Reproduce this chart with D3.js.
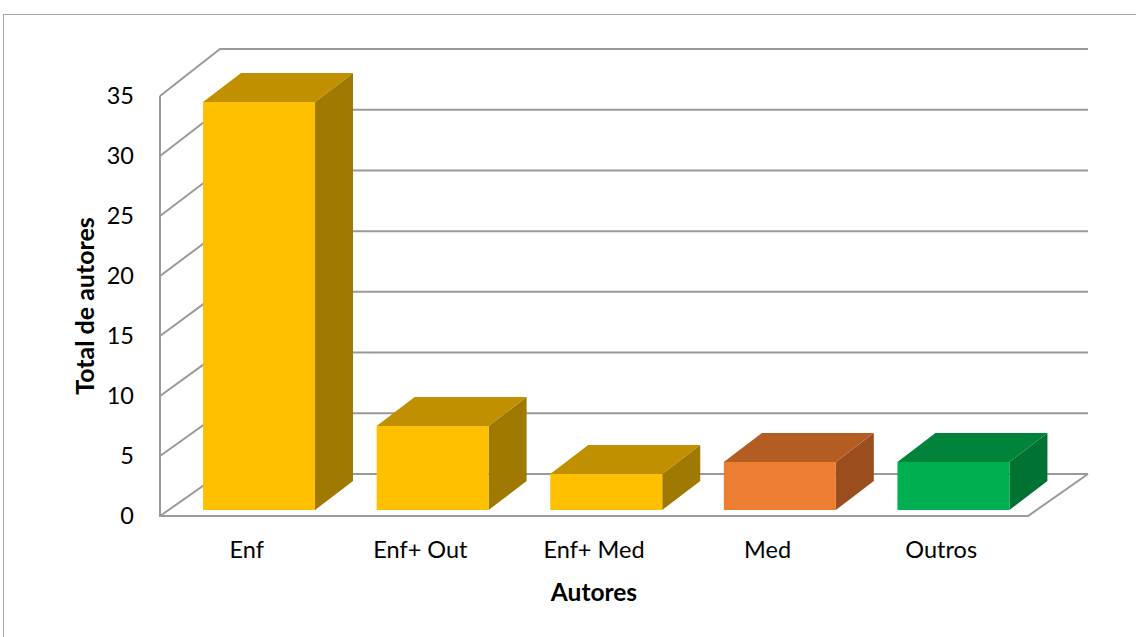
<!DOCTYPE html>
<html>
<head>
<meta charset="utf-8">
<script src="https://cdn.jsdelivr.net/npm/d3@7"></script>
<style>
  html, body { margin: 0; padding: 0; background: #fff; }
  svg { display: block; font-family: Lato, "Open Sans", sans-serif; }
</style>
</head>
<body>
<svg id="chart" width="1136" height="637"></svg>
<script>
// Number of authors per authorship group
const categories = ["Enf", "Enf+ Out", "Enf+ Med", "Med", "Outros"];
const values = [34, 7, 3, 4, 4];
const tickValues = [0, 5, 10, 15, 20, 25, 30, 35];

// Face colours per bar: front, top, side
const frontColors = ["#FFC000", "#FFC000", "#FFC000", "#ED7D31", "#00B050"];
const topColors   = ["#C09000", "#C09000", "#C09000", "#B45D22", "#00843C"];
const sideColors  = ["#A07A00", "#A07A00", "#A07A00", "#9A4E1E", "#007232"];

const svg = d3.select("#chart");
const gridColor = "#9a9a9a";

// Outer chart-area frame
svg.append("rect")
  .attr("x", 3.5).attr("y", 14.5)
  .attr("width", 1150).attr("height", 640)
  .attr("fill", "none").attr("stroke", "#a6a6a6").attr("stroke-width", 1);

// Floor / wall geometry
const floorLeft = 160, floorRight = 1028;
const wallDx = 60;
const x = d3.scaleBand().domain(categories).range([floorLeft, floorRight]);
const yFront = d3.scaleLinear().domain([0, 35]).range([516, 96]);
const yBack  = d3.scaleLinear().domain([0, 35]).range([474, 49]);
const yBar   = d3.scaleLinear().domain([0, 35]).range([510, 90]);

const grid = svg.append("g")
  .attr("fill", "none")
  .attr("stroke", gridColor)
  .attr("stroke-width", 2);

// Gridlines: diagonal on side wall + horizontal on back wall
tickValues.forEach(v => {
  grid.append("path")
    .attr("d", `M${floorLeft},${yFront(v)} L${floorLeft + wallDx},${yBack(v)} L${floorRight + wallDx},${yBack(v)}`);
});

// Side wall front edge and floor outline
grid.append("path")
  .attr("d", `M${floorLeft},${yFront(35)} L${floorLeft},${yFront(0)} L${floorRight},${yFront(0)} L${floorRight + wallDx},${yBack(0)}`);

// Y axis tick labels
const yAxis = d3.axisLeft(yFront).tickValues(tickValues).tickSize(0).tickPadding(26);
const ya = svg.append("g").attr("transform", `translate(${floorLeft},0)`).call(yAxis);
ya.select(".domain").remove();
ya.selectAll("text")
  .attr("font-family", "Lato, 'Open Sans', sans-serif")
  .attr("font-size", 23.5)
  .attr("fill", "#000");

// Bars (3D boxes)
const barOff = 0.248, barW = 0.645;
const bdx = 38, bdy = -29;
const bars = svg.append("g").selectAll("g.bar")
  .data(categories.map((c, i) => ({ c, v: values[i], i })))
  .join("g").attr("class", "bar");

bars.each(function(d) {
  const g = d3.select(this);
  const x0 = x(d.c) + x.bandwidth() * barOff;
  const x1 = x0 + x.bandwidth() * barW;
  const yt = yBar(d.v), yb = yBar(0);
  // side face
  g.append("path")
    .attr("d", `M${x1},${yt} L${x1 + bdx},${yt + bdy} L${x1 + bdx},${yb + bdy} L${x1},${yb} Z`)
    .attr("fill", sideColors[d.i]);
  // top face
  g.append("path")
    .attr("d", `M${x0},${yt} L${x0 + bdx},${yt + bdy} L${x1 + bdx},${yt + bdy} L${x1},${yt} Z`)
    .attr("fill", topColors[d.i]);
  // front face
  g.append("rect")
    .attr("x", x0).attr("y", yt)
    .attr("width", x1 - x0).attr("height", yb - yt)
    .attr("fill", frontColors[d.i]);
});

// Category labels
const xAxis = d3.axisBottom(x).tickSize(0).tickPadding(25);
const xa = svg.append("g").attr("transform", `translate(0,${yFront(0)})`).call(xAxis);
xa.select(".domain").remove();
xa.selectAll("text")
  .attr("font-family", "Lato, 'Open Sans', sans-serif")
  .attr("font-size", 23.5)
  .attr("fill", "#000");

// Axis titles
svg.append("text")
  .attr("x", (floorLeft + floorRight) / 2).attr("y", 601)
  .attr("text-anchor", "middle")
  .attr("font-size", 24.5).attr("font-weight", "bold")
  .text("Autores");

svg.append("text")
  .attr("transform", "translate(94,306) rotate(-90)")
  .attr("text-anchor", "middle")
  .attr("font-size", 25).attr("font-weight", "bold")
  .text("Total de autores");
</script>
</body>
</html>
